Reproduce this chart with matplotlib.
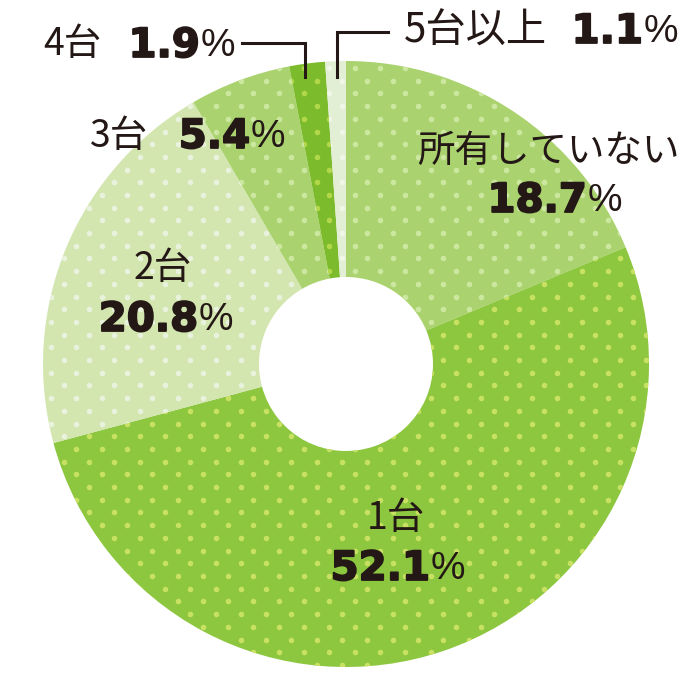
import numpy as np
import matplotlib
matplotlib.use("Agg")
import matplotlib.pyplot as plt
import matplotlib.patheffects as pe

plt.rcParams['font.family'] = ['Noto Sans CJK JP', 'DejaVu Sans']

# data (clockwise from 12 o'clock)
labels = ['所有していない', '1台', '2台', '3台', '4台', '5台以上']
shares = [18.7, 52.1, 20.8, 5.4, 1.9, 1.1]
colors = ['#aad36f', '#8dc63f', '#d4e6b0', '#aad36f', '#7cbb2b', '#e2efd4']
dot_colors = ['#cce79f', '#c8e163', '#e9f2dd', '#cce79f', '#b2d84a', '#f0f6e8']

W, H = 696, 680
INK = '#231815'


def Y(y):
    # pixel row (from top) -> data y
    return H - y


fig = plt.figure(figsize=(W / 100, H / 100), dpi=100)
ax = fig.add_axes([0, 0, 1, 1])

cx, cy, r_out, r_in = 346, 364, 303, 87
wedges, _ = ax.pie(shares, startangle=90, counterclock=False, colors=colors,
                   radius=r_out, center=(cx, Y(cy)),
                   wedgeprops=dict(width=r_out - r_in, linewidth=0))

# dotted texture, clipped to each wedge
dx, dy = 25.3, 12.7
gx, gy = [], []
row = 0
yy = 309.3 - dy * 30
while yy < H + dy:
    off = 0 if row % 2 == 0 else dx / 2
    xs = np.arange(595 % dx - dx + off, W + dx, dx)
    gx.extend(xs)
    gy.extend([Y(yy)] * len(xs))
    yy += dy
    row += 1
for w, dc in zip(wedges, dot_colors):
    sc = ax.scatter(gx, gy, s=16, c=dc, linewidths=0, zorder=2)
    sc.set_clip_path(w)

ax.set_xlim(0, W)
ax.set_ylim(0, H)
ax.set_aspect('equal')
ax.axis('off')

jp = dict(fontsize=27, color=INK, va='center')
num = dict(fontsize=29, color=INK, va='center', fontweight='bold',
           family=['DejaVu Sans'],
           path_effects=[pe.withStroke(linewidth=1.3, foreground=INK)])
pct = dict(fontsize=28, color=INK, va='center', family=['Liberation Sans'])


def value(x_split, y, v):
    ax.text(x_split, Y(y), f'{v}', ha='right', **num)
    ax.text(x_split + 1, Y(y), '%', ha='left', **pct)


# 所有していない
ax.text(548, Y(151), labels[0], ha='center', **jp)
value(587, 201, shares[0])
# 1台
ax.text(396, Y(518), labels[1], ha='center', **jp)
value(430, 569, shares[1])
# 2台
ax.text(163, Y(269), labels[2], ha='center', **jp)
value(198, 320, shares[2])
# 3台
ax.text(119, Y(136), labels[3], ha='center', **jp)
value(250, 137, shares[3])
# 4台
ax.text(72, Y(45), labels[4], ha='center', **jp)
value(200, 46, shares[4])
# 5台以上
ax.text(475, Y(31), labels[5], ha='center', fontsize=29, color=INK,
        va='center')
value(643, 32, shares[5])

# leader lines
ax.plot([242, 305, 305], [Y(43), Y(43), Y(77)], color=INK, lw=2.2,
        solid_joinstyle='miter', zorder=3)
ax.plot([388, 337, 337], [Y(32), Y(32), Y(77)], color=INK, lw=2.2,
        solid_joinstyle='miter', zorder=3)

fig.savefig('out.png', dpi=100)
